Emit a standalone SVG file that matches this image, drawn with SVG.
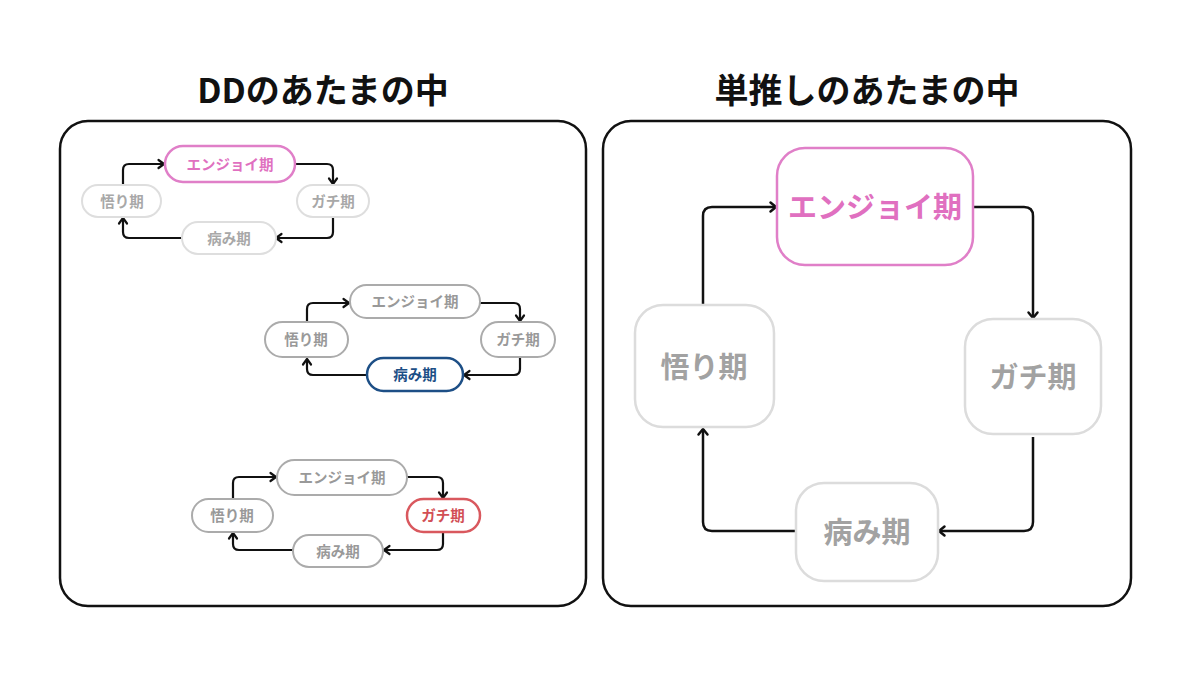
<svg xmlns="http://www.w3.org/2000/svg" width="1200" height="675" viewBox="0 0 1200 675">
<style>
.title{font-family:"Noto Sans CJK JP","Noto Sans",sans-serif;font-weight:700;font-size:34px;fill:#111;text-anchor:middle}
.panel{fill:#fff;stroke:#111;stroke-width:2.5}
.t{font-family:"Noto Sans CJK JP","Noto Sans",sans-serif;font-weight:700;text-anchor:middle;dominant-baseline:central}
.s{font-size:14.5px}
.L{font-size:29px}
.g1{fill:#fff;stroke:#dedede;stroke-width:2}
.g2{fill:#fff;stroke:#ababab;stroke-width:2}
.gR{fill:#fff;stroke:#dcdcdc;stroke-width:2.5}
.tg1{fill:#a8a8a8}
.tg2{fill:#999}
.tgR{fill:#a2a2a2}
.pink{fill:#fff;stroke:#e07fc8;stroke-width:2.5}
.tpink{fill:#e070c0}
.navy{fill:#fff;stroke:#1d4f86;stroke-width:2.5}
.tnavy{fill:#1d4f86}
.red{fill:#fff;stroke:#d9585e;stroke-width:2.5}
.tred{fill:#d24f55}
.c{fill:none;stroke:#111;stroke-width:2.2}
.cL{fill:none;stroke:#111;stroke-width:2.5}
</style>
<defs>
<marker id="aS" markerUnits="userSpaceOnUse" markerWidth="10" markerHeight="12" refX="6" refY="4.5" orient="auto" overflow="visible">
<path d="M0.5,0.5 L6,4.5 L0.5,8.5" fill="none" stroke="#111" stroke-width="2.2" stroke-linecap="round" stroke-linejoin="round"/>
</marker>
<marker id="aL" markerUnits="userSpaceOnUse" markerWidth="10" markerHeight="12" refX="6" refY="5" orient="auto" overflow="visible">
<path d="M0.5,0.5 L6,5 L0.5,9.5" fill="none" stroke="#111" stroke-width="2.5" stroke-linecap="round" stroke-linejoin="round"/>
</marker>
</defs>
<rect width="1200" height="675" fill="#fff"/>
<text class="title" x="323" y="103">DDのあたまの中</text>
<text class="title" x="867" y="103">単推しのあたまの中</text>
<rect class="panel" x="60" y="121" width="526" height="485" rx="28"/>
<rect class="panel" x="603" y="121" width="528" height="485" rx="28"/>

<g id="connectors">
<path class="c" marker-end="url(#aS)" d="M123,185 V170 Q123,164 129,164 H164"/>
<path class="c" marker-end="url(#aS)" d="M295,164 H327 Q333,164 333,170 V184"/>
<path class="c" marker-end="url(#aS)" d="M333,217 V232 Q333,238 327,238 H276"/>
<path class="c" marker-end="url(#aS)" d="M182,238 H129 Q123,238 123,232 V218"/>

<path class="c" marker-end="url(#aS)" d="M307,322 V309 Q307,303 313,303 H349"/>
<path class="c" marker-end="url(#aS)" d="M480,303 H514 Q520,303 520,309 V321"/>
<path class="c" marker-end="url(#aS)" d="M520,358 V369 Q520,375 514,375 H464"/>
<path class="c" marker-end="url(#aS)" d="M367,375 H313 Q307,375 307,369 V359"/>

<path class="c" marker-end="url(#aS)" d="M233,499 V483 Q233,477 239,477 H276"/>
<path class="c" marker-end="url(#aS)" d="M407,477 H437 Q443,477 443,483 V498"/>
<path class="c" marker-end="url(#aS)" d="M443,532 V544 Q443,550 437,550 H384"/>
<path class="c" marker-end="url(#aS)" d="M293,550 H239 Q233,550 233,544 V533"/>

<path class="cL" marker-end="url(#aL)" d="M703,304 V216 Q703,207 712,207 H776"/>
<path class="cL" marker-end="url(#aL)" d="M973,207 H1024 Q1033,207 1033,216 V318"/>
<path class="cL" marker-end="url(#aL)" d="M1033,437 V522 Q1033,531 1024,531 H939"/>
<path class="cL" marker-end="url(#aL)" d="M796,531 H712 Q703,531 703,522 V429"/>
</g>

<g id="dd1-enjoy"><rect class="pink" x="165" y="146" width="130" height="36" rx="18"/><text class="t s tpink" x="230" y="163">エンジョイ期</text></g>
<g id="dd1-satori"><rect class="g1" x="82" y="185" width="79" height="32" rx="16"/><text class="t s tg1" x="122" y="200">悟り期</text></g>
<g id="dd1-gachi"><rect class="g1" x="297" y="185" width="72" height="32" rx="16"/><text class="t s tg1" x="333" y="200">ガチ期</text></g>
<g id="dd1-yami"><rect class="g1" x="182" y="222" width="94" height="32" rx="16"/><text class="t s tg1" x="229" y="237">病み期</text></g>

<g id="dd2-enjoy"><rect class="g2" x="350" y="285" width="130" height="33" rx="16.5"/><text class="t s tg2" x="415" y="300.5">エンジョイ期</text></g>
<g id="dd2-satori"><rect class="g2" x="265" y="322" width="83" height="35" rx="17.5"/><text class="t s tg2" x="306" y="338.5">悟り期</text></g>
<g id="dd2-gachi"><rect class="g2" x="481" y="322" width="74" height="35" rx="17.5"/><text class="t s tg2" x="518" y="338.5">ガチ期</text></g>
<g id="dd2-yami"><rect class="navy" x="367" y="358" width="96" height="33" rx="16.5"/><text class="t s tnavy" x="415" y="373.5">病み期</text></g>

<g id="dd3-enjoy"><rect class="g2" x="277" y="460" width="130" height="35" rx="17.5"/><text class="t s tg2" x="342" y="476.5">エンジョイ期</text></g>
<g id="dd3-satori"><rect class="g2" x="192" y="499" width="81" height="33" rx="16.5"/><text class="t s tg2" x="232" y="514.5">悟り期</text></g>
<g id="dd3-gachi"><rect class="red" x="407" y="499" width="73" height="33" rx="16.5"/><text class="t s tred" x="443" y="514.5">ガチ期</text></g>
<g id="dd3-yami"><rect class="g2" x="293" y="535" width="90" height="32" rx="16"/><text class="t s tg2" x="338" y="550">病み期</text></g>

<g id="single-enjoy"><rect class="pink" x="777" y="148" width="196" height="117" rx="28"/><text class="t L tpink" x="875" y="205">エンジョイ期</text></g>
<g id="single-satori"><rect class="gR" x="635" y="305" width="139" height="122" rx="28"/><text class="t L tgR" x="704" y="365">悟り期</text></g>
<g id="single-gachi"><rect class="gR" x="965" y="319" width="136" height="115" rx="28"/><text class="t L tgR" x="1033" y="375">ガチ期</text></g>
<g id="single-yami"><rect class="gR" x="796" y="483" width="142" height="98" rx="28"/><text class="t L tgR" x="867" y="530">病み期</text></g>
</svg>
